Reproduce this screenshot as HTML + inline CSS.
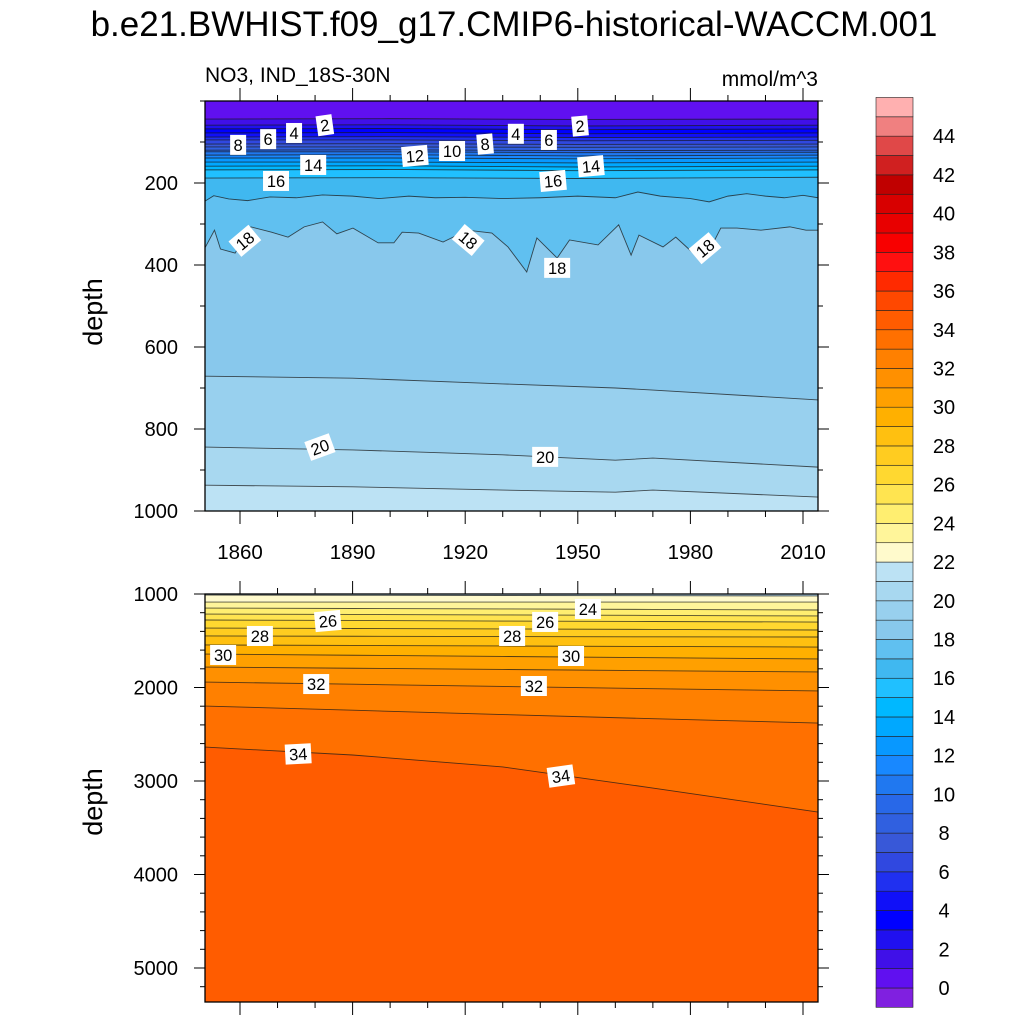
<!DOCTYPE html>
<html><head><meta charset="utf-8">
<style>
html,body{margin:0;padding:0;background:#fff;}
svg{display:block;font-family:"Liberation Sans",sans-serif;}
</style></head>
<body>
<svg id="chart" width="1024" height="1024" viewBox="0 0 1024 1024" xmlns="http://www.w3.org/2000/svg">
<text x="514" y="36" font-size="35" text-anchor="middle">b.e21.BWHIST.f09_g17.CMIP6-historical-WACCM.001</text>
<text x="205" y="82" font-size="21">NO3, IND_18S-30N</text>
<text x="818" y="86" font-size="21" text-anchor="end">mmol/m^3</text>
<text transform="translate(102,312) rotate(-90)" font-size="27" text-anchor="middle">depth</text>
<text transform="translate(102,802) rotate(-90)" font-size="27" text-anchor="middle">depth</text>
<defs>
<clipPath id="clipTop"><rect x="205" y="101" width="613" height="410"/></clipPath>
<clipPath id="clipBot"><rect x="205" y="594" width="613" height="408"/></clipPath>
</defs>
<g id="topPanel" clip-path="url(#clipTop)"></g>
<g id="botPanel" clip-path="url(#clipBot)"></g>
<g id="labels"></g>
<g id="axes"></g>
<g id="colorbar"></g>
</svg>
<script>
// ---- data ----
const bandLevels = [-1,0,1,2,3,4,5,6,7,8,9,10,11,12,13,14,15,16,17,18,19,20,21,22,23,24,25,26,27,28,29,30,31,32,33,34,35,36,37,38,39,40,41,42,43,44,45];
const bandColors = ["#8020e0","#6010f0","#4010e8","#2010f0","#0000ff","#1010f8","#2030f0","#3048e0","#3858d8","#3060e0","#2868e8","#2078f0","#1888ff","#0898ff","#00a8ff","#00b8ff","#20c0ff","#40b8f0","#60c0f0","#88c8ec","#98d0ee","#a8d8f0","#bce2f4","#fffacc","#fff59a","#ffee70","#ffe450","#ffd830","#ffcc20","#ffc010","#ffb000","#ffa000","#ff9000","#ff8000","#ff7000","#ff5c00","#ff4800","#ff2a00","#ff1010","#f80000","#e80000","#d80000","#c00000","#d02020","#e04848","#f08080","#ffb0b0"];
const colorbarTicks = [0,2,4,6,8,10,12,14,16,18,20,22,24,26,28,30,32,34,36,38,40,42,44];
const xTickYears = [1860,1890,1920,1950,1980,2010];
const topDepthTicks = [200,400,600,800,1000];
const botDepthTicks = [1000,2000,3000,4000,5000];

// upper panel contours (shallow levels)
const shallowYears = [1850,1900,1950,2014];
const shallowLevels = [1,2,3,4,5,6,7,8,9,10,11,12,13,14,15,16];
const shallowDepths = [
 [44,43,45,44],[59,58,61,59],[68,67,70,68],[78,77,80,78],[88,87,89,88],[95,95,97,96],
 [105,104,106,105],[112,112,113,112],[120,119,121,120],[124,124,126,125],[132,131,134,132],
 [139,139,141,139],[149,149,151,149],[159,158,161,159],[168,167,170,168],[188,187,189,186]];
const l17Years = [1850,1853,1857,1862,1868,1875,1882,1890,1897,1905,1912,1920,1930,1940,1950,1960,1966,1972,1980,1985,1990,1995,2000,2005,2010,2014];
const l17Depths = [248,231,239,243,234,236,229,232,238,232,236,235,238,236,232,236,222,232,238,246,232,226,232,236,230,236];
const l18Years = [1850.8,1853.2,1854.8,1858.7,1862.9,1868.4,1872.8,1877.1,1882,1885.8,1890.1,1896.8,1901,1903.2,1907.6,1914.1,1920.6,1927.1,1931.4,1936.4,1939.1,1944.5,1947.8,1955.4,1960.9,1964.2,1966.3,1972.7,1976.1,1980.4,1984.7,1988.1,1992.4,1998.8,2006.5,2010.8,2014.2];
const l18Depths = [356,315,361,371,307,320,332,307,295,324,310,346,346,320,322,344,315,322,356,417,334,383,339,351,302,376,327,356,332,368,371,310,310,315,307,315,315];
const deepTopYears = [1850,1890,1930,1960,1970,2014];
const l19Depths = [671,676,690,700,705,729];
const l20Depths = [844,851,863,876,871,893];
const l21Depths = [937,941,949,954,949,966];

// lower panel contours
const botYears = [1850,1890,1930,1970,2014];
const botLevels = [22,23,24,25,26,27,28,29,30,31,32,33,34];
const botDepths = [
 [1011,1014,1016,1018,1021],[1086,1086,1086,1086,1086],[1150,1155,1160,1165,1171],
 [1214,1219,1224,1229,1235],[1278,1283,1289,1294,1300],[1364,1369,1374,1379,1385],
 [1449,1452,1455,1458,1460],[1545,1550,1556,1561,1567],[1642,1655,1668,1681,1695],
 [1781,1794,1807,1820,1834],[1941,1965,1989,2013,2037],[2198,2243,2289,2334,2380],
 [2636,2722,2850,3075,3332]];

// contour labels
const labelText = ["2","6","4","8","12","10","8","4","6","2","14","14","16","16","18","18","18","18","20","20"];
const labelYear = [1882.6,1867.5,1874.4,1859.5,1906.6,1916.5,1925.3,1933.5,1942.3,1950.6,1879.5,1953.5,1869.6,1943.4,1861.3,1920.8,1944.5,1983.9,1881.3,1941.3];
const labelDepth = [59,93,78,107,134,122,105,80,95,61,156,159,195,195,341,339,407,359,844,868];
const labelRot = [-8,0,0,0,-5,0,-5,0,0,-5,0,-5,0,-5,-40,40,0,-40,-20,0];
const botLabelText = ["24","26","26","28","28","30","30","32","32","34","34"];
const botLabelYear = [1952.7,1883.4,1941.3,1865.3,1932.5,1855.5,1948.2,1880.3,1938.3,1875.5,1945.5];
const botLabelDepth = [1160,1289,1299,1449,1449,1652,1663,1963,1984,2711,2947];
const botLabelRot = [0,-5,0,0,0,0,0,0,0,-3,-8];

// ---- scales ----
const NS = "http://www.w3.org/2000/svg";
const xS = y => 240 + (y - 1860) * 3.7533;
const yTop = d => 101 + d * 0.41;
const yBot = d => 594 + (d - 1000) * 0.0935;
const X0 = 205, X1 = 818;
function colorFor(v){ return bandColors[bandLevels.indexOf(v)]; }
function mk(tag, attrs, parent){
  const e = document.createElementNS(NS, tag);
  for (const k in attrs) e.setAttribute(k, attrs[k]);
  parent.appendChild(e); return e;
}
function linePts(years, depths, ys){
  const p = [[X0 - 2, ys(depths[0])]];
  for (let i = 0; i < years.length; i++) p.push([xS(years[i]), ys(depths[i])]);
  p.push([X1 + 2, ys(depths[depths.length - 1])]);
  return p;
}
function drawPanel(g, contours, ys, topY, botY, bottomColor){
  const bg = mk("rect", {x:X0, y:topY, width:X1-X0, height:botY-topY, fill:bottomColor}, g);
  
  
  for (let i = contours.length - 1; i >= 0; i--){
    const c = contours[i];
    const pts = linePts(c.years, c.depths, ys);
    const poly = pts.map(p => p.join(",")).concat([(X1+2)+","+(topY-2), (X0-2)+","+(topY-2)]).join(" ");
    const f = mk("polygon", {points:poly, fill:colorFor(c.level - 1)}, g);
    
    
  }
  for (const c of contours){
    const pts = linePts(c.years, c.depths, ys);
    const l = mk("polyline", {points:pts.map(p=>p.join(",")).join(" "), fill:"none", stroke:"#1a1a1a", "stroke-width":"0.9", "stroke-opacity":"0.75"}, g);
    
    
  }
}
const topContours = [];
shallowLevels.forEach((lv, i) => topContours.push({level:lv, years:shallowYears, depths:shallowDepths[i]}));
topContours.push({level:17, years:l17Years, depths:l17Depths});
topContours.push({level:18, years:l18Years, depths:l18Depths});
topContours.push({level:19, years:deepTopYears, depths:l19Depths});
topContours.push({level:20, years:deepTopYears, depths:l20Depths});
topContours.push({level:21, years:deepTopYears, depths:l21Depths});
drawPanel(document.getElementById("topPanel"), topContours, yTop, 101, 511, colorFor(21));
const botContours = botLevels.map((lv, i) => ({level:lv, years:botYears, depths:botDepths[i]}));
drawPanel(document.getElementById("botPanel"), botContours, yBot, 594, 1002, colorFor(34));

// labels
const lg = document.getElementById("labels");
function addLabel(t, x, y, r){
  const g = mk("g", {transform:`translate(${x},${y}) rotate(${r})`}, lg);
  
  
  const w = t.length * 10 + 6;
  mk("rect", {x:-w/2, y:-10, width:w, height:20, fill:"#fff"}, g);
  const tx = mk("text", {x:0, y:6, "font-size":"16.5", "text-anchor":"middle"}, g);
  tx.textContent = t;
}
labelText.forEach((t,i) => addLabel(t, xS(labelYear[i]), yTop(labelDepth[i]), labelRot[i]));
botLabelText.forEach((t,i) => addLabel(t, xS(botLabelYear[i]), yBot(botLabelDepth[i]), botLabelRot[i]));

// axes
const ax = document.getElementById("axes");
function frame(topY, botY, ys, ticks, minorStep, dMin, dMax, showX){
  const r = mk("rect", {x:X0, y:topY, width:X1-X0, height:botY-topY, fill:"none", stroke:"#000", "stroke-width":"1.3"}, ax);
  
  
  for (let yr = 1860; yr <= 2014; yr += 10){
    const x = xS(yr), major = xTickYears.includes(yr), L = major ? 13 : 6;
    mk("line", {x1:x, x2:x, y1:topY, y2:topY - L, stroke:"#000", "stroke-width":"1"}, ax);
    mk("line", {x1:x, x2:x, y1:botY, y2:botY + L, stroke:"#000", "stroke-width":"1"}, ax);
  }
  if (showX){
    xTickYears.forEach(yr => {
      const t = mk("text", {x:xS(yr), y:559, "font-size":"20.5", "text-anchor":"middle"}, ax);
      
      
      t.textContent = yr;
    });
  }
  for (let d = Math.ceil(dMin/minorStep)*minorStep; d <= dMax; d += minorStep){
    const y = ys(d); if (y < topY - 0.5 || y > botY + 0.5) continue;
    const major = ticks.includes(d), L = major ? 11 : 5;
    mk("line", {x1:X0, x2:X0 - L, y1:y, y2:y, stroke:"#000", "stroke-width":"1"}, ax);
    mk("line", {x1:X1, x2:X1 + L, y1:y, y2:y, stroke:"#000", "stroke-width":"1"}, ax);
  }
  ticks.forEach(d => {
    const t = mk("text", {x:178, y:ys(d)+7, "font-size":"20", "text-anchor":"end"}, ax);
    
    
    t.textContent = d;
  });
}
frame(101, 511, yTop, topDepthTicks, 100, 0, 1000, true);
frame(594, 1002, yBot, botDepthTicks, 200, 1000, 5400, false);

// colorbar
const cb = document.getElementById("colorbar");
const cbY = v => 988 - v * 19.36;
bandLevels.forEach((v, i) => {
  const r = mk("rect", {x:876, y:cbY(v+1), width:37, height:19.36, fill:bandColors[i], stroke:"#222", "stroke-width":"0.6"}, cb);
  
  
});
colorbarTicks.forEach(v => {
  const t = mk("text", {x:944, y:cbY(v)+7, "font-size":"20", "text-anchor":"middle"}, cb);
  
  
  t.textContent = v;
});
</script>
</body></html>
